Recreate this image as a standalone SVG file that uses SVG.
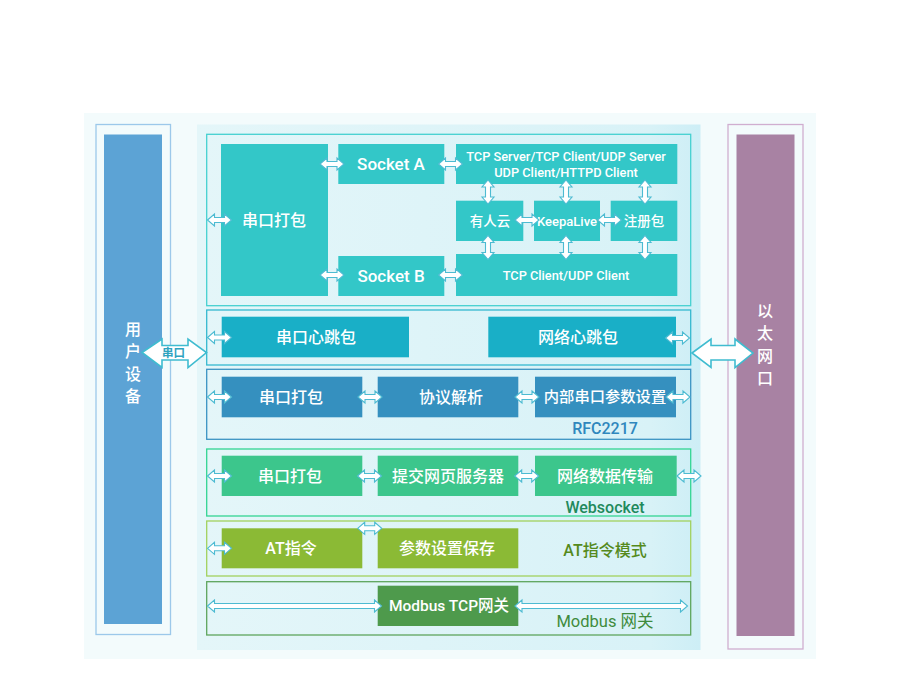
<svg xmlns="http://www.w3.org/2000/svg" xmlns:xlink="http://www.w3.org/1999/xlink" width="900" height="693" viewBox="0 0 900 693">
<defs>
<linearGradient id="panel" x1="0" y1="0" x2="1" y2="0">
<stop offset="0" stop-color="#e4f6f9"/>
<stop offset="0.9" stop-color="#d8f2f7"/>
<stop offset="1" stop-color="#cdeef6"/>
</linearGradient>
<path id="ah" d="M-12,0 L-5,-6 L-5,-2.5 L5,-2.5 L5,-6 L12,0 L5,6 L5,2.5 L-5,2.5 L-5,6 Z"/>
</defs>
<style>
text{font-family:Roboto,"Noto Sans CJK SC",sans-serif;text-anchor:middle;dominant-baseline:central;font-weight:500}
.w{fill:#ffffff}
.sec{fill:none;stroke-width:1.3}
.arr use,.arr polygon{fill:#ffffff;stroke:#4dbbd2;stroke-width:1.1}
.big{fill:#ffffff;stroke:#3fbcd0;stroke-width:1.6}
</style>
<rect width="900" height="693" fill="#ffffff"/>
<rect x="84" y="113" width="732" height="546" fill="#f3fbfc"/>
<rect x="197" y="124.5" width="503.5" height="525.5" fill="url(#panel)"/>

<g id="user-device">
<rect x="96" y="124.5" width="74.5" height="510" fill="none" stroke="#9cc8ea" stroke-width="1.3"/>
<rect x="104" y="134.5" width="58" height="489.5" fill="#5ca3d5"/>
<text class="w" x="133" y="329" font-size="16">用</text>
<text class="w" x="133" y="351.5" font-size="16">户</text>
<text class="w" x="133" y="374" font-size="16">设</text>
<text class="w" x="133" y="396.5" font-size="16">备</text>
</g>

<g id="ethernet">
<rect x="728" y="124.5" width="75" height="524.5" fill="none" stroke="#d0aed0" stroke-width="1.3"/>
<rect x="736.5" y="134.5" width="58" height="501.5" fill="#a882a3"/>
<text class="w" x="765" y="311" font-size="16">以</text>
<text class="w" x="765" y="333.5" font-size="16">太</text>
<text class="w" x="765" y="356" font-size="16">网</text>
<text class="w" x="765" y="378.5" font-size="16">口</text>
</g>

<g id="sec1">
<rect class="sec" x="206.7" y="134.3" width="484" height="171.4" stroke="#45d0d0"/>
<g id="n-pack1"><rect x="221" y="144" width="107" height="152" fill="#33c7c8"/><text class="w" x="274" y="220" font-size="16">串口打包</text></g>
<g id="n-socketA"><rect x="338.3" y="144" width="106" height="40" fill="#33c7c8"/><text class="w" x="391" y="164" font-size="17">Socket A</text></g>
<g id="n-socketB"><rect x="338.3" y="256" width="106" height="40" fill="#33c7c8"/><text class="w" x="391" y="276" font-size="17">Socket B</text></g>
<g id="n-tcpserver"><rect x="456" y="144" width="221.3" height="40" fill="#33c7c8"/><text class="w" x="566" y="156.5" font-size="12.8">TCP Server/TCP Client/UDP Server</text><text class="w" x="566" y="172.5" font-size="12.8">UDP Client/HTTPD Client</text></g>
<g id="n-cloud"><rect x="456" y="200.7" width="67.3" height="40.3" fill="#33c7c8"/><text class="w" x="490" y="221" font-size="13.5">有人云</text></g>
<g id="n-keepalive"><rect x="534" y="200.7" width="66" height="40.3" fill="#33c7c8"/><text class="w" x="567" y="221" font-size="13">KeepaLive</text></g>
<g id="n-reg"><rect x="610.7" y="200.7" width="66.6" height="40.3" fill="#33c7c8"/><text class="w" x="644" y="221" font-size="13.5">注册包</text></g>
<g id="n-tcpclient"><rect x="456" y="254" width="221.3" height="42" fill="#33c7c8"/><text class="w" x="566" y="275" font-size="12.8">TCP Client/UDP Client</text></g>
</g>

<g id="sec2">
<rect class="sec" x="206.7" y="310" width="484" height="55" stroke="#35b8cf"/>
<g id="n-serialhb"><rect x="221.7" y="316.7" width="187.3" height="40.6" fill="#19afc7"/><text class="w" x="316" y="337" font-size="16">串口心跳包</text></g>
<g id="n-nethb"><rect x="488.3" y="316.7" width="187.7" height="40.6" fill="#19afc7"/><text class="w" x="578" y="337" font-size="16">网络心跳包</text></g>
</g>

<g id="sec3">
<rect class="sec" x="206.7" y="369.3" width="484" height="70" stroke="#3b93c3"/>
<g id="n-pack3"><rect x="221.7" y="376.7" width="140.6" height="40.6" fill="#3590bf"/><text class="w" x="291" y="397" font-size="16">串口打包</text></g>
<g id="n-proto"><rect x="377.7" y="376.7" width="140.6" height="40.6" fill="#3590bf"/><text class="w" x="451" y="397" font-size="16">协议解析</text></g>
<g id="n-internal"><rect x="535" y="376.7" width="141" height="40.6" fill="#3590bf"/><text class="w" x="605" y="397" font-size="15.3">内部串口参数设置</text></g>
<text x="605" y="428" font-size="16" fill="#2f87bd">RFC2217</text>
</g>

<g id="sec4">
<rect class="sec" x="206.7" y="449" width="484" height="67" stroke="#33d593"/>
<g id="n-pack4"><rect x="221.7" y="455.7" width="140.6" height="40.3" fill="#3cc68c"/><text class="w" x="290" y="476" font-size="16">串口打包</text></g>
<g id="n-web"><rect x="377.7" y="455.7" width="140.6" height="40.3" fill="#3cc68c"/><text class="w" x="448" y="476" font-size="16">提交网页服务器</text></g>
<g id="n-netdata"><rect x="535" y="455.7" width="141.7" height="40.3" fill="#3cc68c"/><text class="w" x="605" y="476" font-size="16">网络数据传输</text></g>
<text x="605" y="507.5" font-size="16" fill="#1f8a5c">Websocket</text>
</g>

<g id="sec5">
<rect class="sec" x="206.7" y="521" width="484" height="55" stroke="#a2d15e"/>
<g id="n-at"><rect x="221.7" y="528.3" width="140.6" height="40" fill="#8bba35"/><text class="w" x="291" y="548.5" font-size="16">AT指令</text></g>
<g id="n-save"><rect x="377.7" y="528.3" width="140.6" height="40" fill="#8bba35"/><text class="w" x="447" y="548.5" font-size="16">参数设置保存</text></g>
<text x="605" y="550" font-size="16" fill="#558a1c">AT指令模式</text>
</g>

<g id="sec6">
<rect class="sec" x="206.7" y="581.7" width="484" height="53.3" stroke="#5ea55c"/>
<g id="n-modbus"><rect x="377.7" y="585.7" width="140.6" height="40.3" fill="#4e9a4c"/><text class="w" x="449" y="606" font-size="15.5">Modbus TCP网关</text></g>
<text x="605" y="621.5" font-size="16.5" fill="#3f8b3d" style="font-weight:400">Modbus 网关</text>
</g>

<g id="connectors">
<g class="arr">
<use xlink:href="#ah" href="#ah" x="219.5" y="220"/>
<use xlink:href="#ah" href="#ah" x="332" y="164"/>
<use xlink:href="#ah" href="#ah" x="332" y="275"/>
<use xlink:href="#ah" href="#ah" x="450.5" y="164"/>
<use xlink:href="#ah" href="#ah" x="450.5" y="275"/>
<use xlink:href="#ah" href="#ah" transform="translate(488,192) rotate(90)"/>
<use xlink:href="#ah" href="#ah" transform="translate(566,192) rotate(90)"/>
<use xlink:href="#ah" href="#ah" transform="translate(645,192) rotate(90)"/>
<use xlink:href="#ah" href="#ah" transform="translate(488,247.5) rotate(90)"/>
<use xlink:href="#ah" href="#ah" transform="translate(566,247.5) rotate(90)"/>
<use xlink:href="#ah" href="#ah" transform="translate(645,247.5) rotate(90)"/>
<use xlink:href="#ah" href="#ah" x="527" y="220"/>
<use xlink:href="#ah" href="#ah" x="609.5" y="220"/>
<use xlink:href="#ah" href="#ah" x="219.5" y="337.5"/>
<use xlink:href="#ah" href="#ah" x="677.5" y="338"/>
<use xlink:href="#ah" href="#ah" x="219.5" y="397"/>
<use xlink:href="#ah" href="#ah" x="370" y="397"/>
<use xlink:href="#ah" href="#ah" x="527" y="397"/>
<use xlink:href="#ah" href="#ah" x="678" y="397"/>
<use xlink:href="#ah" href="#ah" x="219.5" y="476"/>
<use xlink:href="#ah" href="#ah" x="369.5" y="476"/>
<use xlink:href="#ah" href="#ah" x="526.7" y="476"/>
<use xlink:href="#ah" href="#ah" x="689" y="476"/>
<use xlink:href="#ah" href="#ah" x="219.5" y="548.3"/>
<use xlink:href="#ah" href="#ah" x="369.7" y="528.3"/>
<polygon points="207.5,606 214.5,600 214.5,603.5 374.5,603.5 374.5,600 381.5,606 374.5,612 374.5,608.5 214.5,608.5 214.5,612"/>
<polygon points="515,606 522,600 522,603.5 680.5,603.5 680.5,600 687.5,606 680.5,612 680.5,608.5 522,608.5 522,612"/>
</g>
<g id="serial-link">
<polygon class="big" points="142,352.5 162,339 162,345.5 188,345.5 188,339 206.5,352.5 188,367.5 188,360 162,360 162,367.5"/>
<text x="173.5" y="353" font-size="11.5" fill="#2ea3bf" style="font-weight:700">串口</text>
</g>
<g id="eth-link">
<polygon class="big" points="692,353 711,339 711,345.5 735,345.5 735,339 753,353 735,367.5 735,360 711,360 711,367.5"/>
</g>
</g>
</svg>
